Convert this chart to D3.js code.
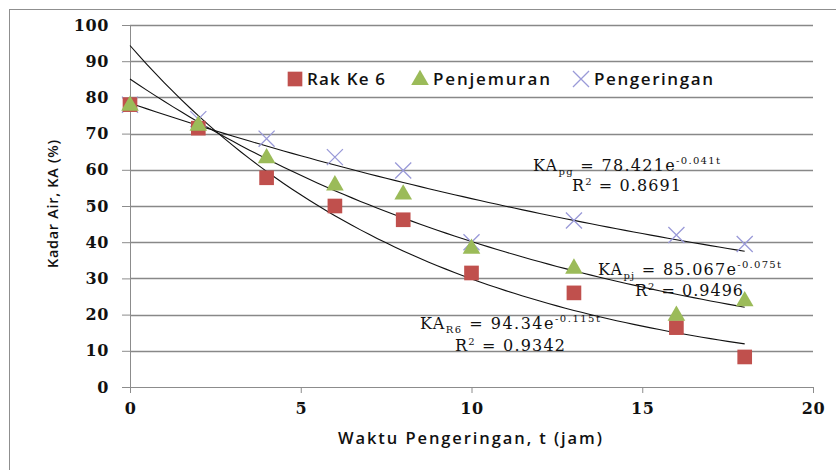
<!DOCTYPE html>
<html><head><meta charset="utf-8">
<script src="https://cdn.jsdelivr.net/npm/d3@7"></script>
<style>body{margin:0;background:#fff}svg{display:block}</style>
</head><body>
<svg id="c" width="836" height="470"></svg>
<script>
const tValues = [0, 2, 4, 6, 8, 10, 13, 16, 18];
const rakKe6 = [78, 71.5, 57.8, 50, 46.2, 31.5, 26, 16.4, 8.3];
const penjemuran = [78, 72.5, 63.5, 56, 53.5, 38.5, 33, 20, 24];
const pengeringan = [78, 74, 68.6, 63.5, 59.8, 40, 46, 42, 39.5];
const seriesNames = ["Rak Ke 6", "Penjemuran", "Pengeringan"];
const fitA = [94.34, 85.067, 78.421];
const fitB = [0.115, 0.075, 0.041];
const xTicks = [0, 5, 10, 15, 20];
const yTicks = [0, 10, 20, 30, 40, 50, 60, 70, 80, 90, 100];
const colors = ["#c0504d", "#9bbb59", "#9a9ad8"];

const svg = d3.select("#c");
svg.append("rect").attr("x", 9.5).attr("y", 9.5).attr("width", 840).attr("height", 480)
  .attr("fill", "none").attr("stroke", "#8f8f8f");

const x = d3.scaleLinear().domain([0, 20]).range([130, 813]);
const y = d3.scaleLinear().domain([0, 100]).range([387, 25]);

// horizontal gridlines
const gridG = svg.append("g").attr("class", "gridlines");
gridG.selectAll("line").data(yTicks.filter(d => d > 0)).join("line")
  .attr("x1", x(0)).attr("x2", x(20))
  .attr("y1", d => Math.round(y(d)) + 0.5).attr("y2", d => Math.round(y(d)) + 0.5)
  .attr("stroke", "#888888").attr("stroke-width", 1.3);

const tickFont = "'DejaVu Serif', serif";
const yAxis = svg.append("g").attr("transform", `translate(${x(0)},0)`)
  .call(d3.axisLeft(y).tickValues(yTicks).tickSize(8).tickPadding(13));
const xAxis = svg.append("g").attr("transform", `translate(0,${y(0)})`)
  .call(d3.axisBottom(x).tickValues(xTicks).tickSize(6).tickPadding(10));
[yAxis, xAxis].forEach(g => {
  g.select(".domain").attr("stroke", "#8c8c8c");
  g.selectAll(".tick line").attr("stroke", "#8c8c8c");
  g.selectAll(".tick text").attr("fill", "#111").attr("font-family", tickFont)
    .attr("font-size", 16).attr("font-weight", "bold").attr("letter-spacing", 0.6);
});

// fit curves
const tLine = d3.range(0, 18.001, 0.25);
const line = d3.line().x(d => x(d[0])).y(d => y(d[1]));
const curves = svg.append("g").attr("fill", "none");
fitA.forEach((a, i) => {
  curves.append("path").datum(tLine.map(t => [t, a * Math.exp(-fitB[i] * t)]))
    .attr("d", line).attr("fill", "none").attr("stroke", "#111").attr("stroke-width", 1.1);
});

// markers
const sq = d3.symbol().type(d3.symbolSquare).size(215);
const tri = d3.symbol().type(d3.symbolTriangle).size(135);
const cross = d3.symbol().type(d3.symbolX).size(170);
const gm = svg.append("g");
gm.selectAll(".p3").data(tValues.map((t, i) => [t, pengeringan[i]])).join("path")
  .attr("transform", d => `translate(${x(d[0])},${y(d[1])})`).attr("d", cross)
  .attr("fill", "none").attr("stroke", colors[2]).attr("stroke-width", 1.3);
gm.selectAll(".p1").data(tValues.map((t, i) => [t, rakKe6[i]])).join("path")
  .attr("transform", d => `translate(${x(d[0])},${y(d[1])})`).attr("d", sq).attr("fill", colors[0]);
gm.selectAll(".p2").data(tValues.map((t, i) => [t, penjemuran[i]])).join("path")
  .attr("transform", d => `translate(${x(d[0])},${y(d[1])+1})`).attr("d", tri).attr("fill", colors[1]);

// legend
const legFont = "'Open Sans', sans-serif";
const leg = svg.append("g").attr("font-family", legFont).attr("font-size", 17).attr("font-weight", 600).attr("fill", "#111");
const legItems = [{x: 295, tx: 307, w: 78, sym: sq, c: colors[0], st: false},
                  {x: 420, tx: 433, w: 117, sym: tri, c: colors[1], st: false},
                  {x: 581, tx: 594, w: 119, sym: cross, c: colors[2], st: true}];
legItems.forEach((it, i) => {
  const p = leg.append("path").attr("transform", `translate(${it.x},${79 + (i===1?1:0)})`).attr("d", it.sym);
  if (it.st) p.attr("fill", "none").attr("stroke", it.c).attr("stroke-width", 1.3);
  else p.attr("fill", it.c);
  leg.append("text").attr("x", it.tx).attr("y", 85).attr("textLength", it.w).attr("lengthAdjust", "spacing")
    .text(seriesNames[i]);
});

// axis titles
svg.append("text").attr("x", 338).attr("y", 444)
  .attr("font-family", legFont).attr("font-size", 16.5).attr("font-weight", 600).attr("fill", "#111")
  .attr("textLength", 264).attr("lengthAdjust", "spacing")
  .text("Waktu Pengeringan, t (jam)");
svg.append("text").attr("transform", "translate(58,268) rotate(-90)")
  .attr("font-family", legFont).attr("font-size", 14.5).attr("font-weight", 600).attr("fill", "#111")
  .attr("textLength", 128).attr("lengthAdjust", "spacing")
  .text("Kadar Air, KA (%)");

// equations
const eqFont = "'DejaVu Serif', serif";
function eq(xp, yp, w1, sub, coef, expo, r2, rx, ry, w2) {
  const t = svg.append("text").attr("x", xp).attr("y", yp).attr("font-family", eqFont)
    .attr("font-size", 16).attr("fill", "#111").attr("textLength", w1).attr("lengthAdjust", "spacing");
  t.append("tspan").text("KA");
  t.append("tspan").attr("font-size", 10).attr("dy", 4).text(sub);
  t.append("tspan").attr("dy", -4).text(" = " + coef + "e");
  t.append("tspan").attr("font-size", 10).attr("dy", -7).text(expo);
  const r = svg.append("text").attr("x", rx).attr("y", ry).attr("font-family", eqFont)
    .attr("font-size", 16).attr("fill", "#111").attr("textLength", w2).attr("lengthAdjust", "spacing");
  r.append("tspan").text("R");
  r.append("tspan").attr("font-size", 10).attr("dy", -6).text("2");
  r.append("tspan").attr("dy", 6).text(" = " + r2);
}
eq(533, 171, 187, "pg", "78.421", "-0.041t", "0.8691", 572, 191, 109);
eq(598, 275, 183, "pj", "85.067", "-0.075t", "0.9496", 635, 296, 108);
eq(420, 329, 180, "R6", "94.34", "-0.115t", "0.9342", 455, 351, 110);
</script>
</body></html>
